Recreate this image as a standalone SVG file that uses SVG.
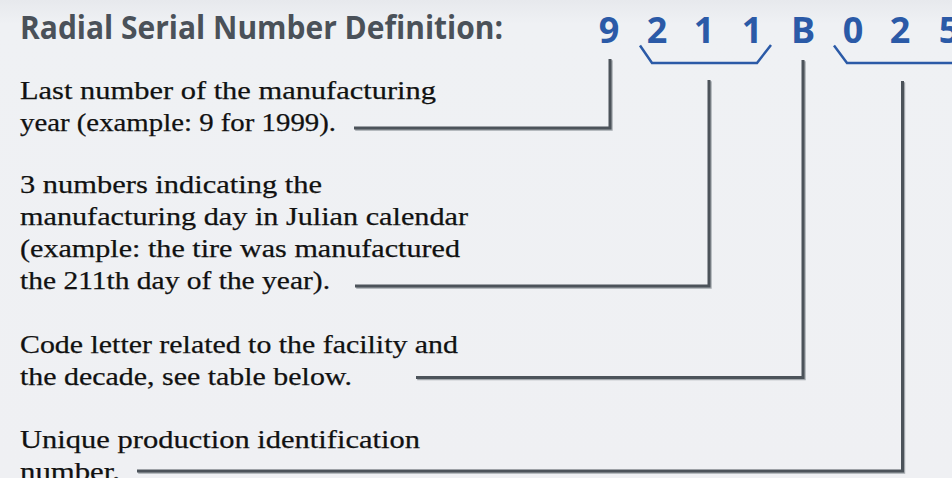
<svg xmlns="http://www.w3.org/2000/svg" width="952" height="478" viewBox="0 0 952 478">
  <defs>
    <linearGradient id="bg" x1="0" y1="0" x2="0" y2="1">
      <stop offset="0" stop-color="#e7e9ed"/>
      <stop offset="0.05" stop-color="#eff1f4"/>
      <stop offset="1" stop-color="#eff0f3"/>
    </linearGradient>
    <style>
      .title { font-family: "Open Sans", "Liberation Sans", sans-serif; font-weight: 700; font-size: 33px; fill: #4a5159; }
      .digit { font-family: "Open Sans", "Liberation Sans", sans-serif; font-weight: 700; font-size: 36px; fill: #2b5aa7; text-anchor: middle; }
      .desc { font-family: "Liberation Serif", "Times New Roman", serif; font-size: 25.5px; fill: #111111; stroke: #111111; stroke-width: 0.25; }
      .bracket { fill: none; stroke: #2b5aa7; stroke-width: 2.5; stroke-linejoin: miter; }
      .lead { fill: none; stroke: #4c535a; stroke-width: 3; stroke-linejoin: miter; }
      .lead-shade { fill: none; stroke: #a3a8ad; stroke-width: 3; }
    </style>
  </defs>

  <rect x="0" y="0" width="952" height="478" fill="url(#bg)"/>

  <g id="title">
    <text class="title" x="20" y="39" textLength="483" lengthAdjust="spacingAndGlyphs">Radial Serial Number Definition:</text>
  </g>

  <!-- serial number characters with grouping brackets -->
  <g id="serial">
    <text class="digit" x="609" y="43">9</text>
    <text class="digit" x="657" y="43">2</text>
    <text class="digit" x="704" y="43">1</text>
    <text class="digit" x="752" y="43">1</text>
    <text class="digit" x="803" y="43">B</text>
    <text class="digit" x="853" y="43">0</text>
    <text class="digit" x="900" y="43">2</text>
    <text class="digit" x="949" y="43">5</text>
    <polyline class="bracket" points="640,45.5 652,63 757,63 771,45"/>
    <polyline class="bracket" points="834,45.5 847,63 960,63"/>
  </g>

  <g id="year">
    <text class="desc" x="20" y="99" textLength="416" lengthAdjust="spacingAndGlyphs">Last number of the manufacturing</text>
    <text class="desc" x="20" y="131" textLength="316" lengthAdjust="spacingAndGlyphs">year (example: 9 for 1999).</text>
  </g>

  <g id="day">
    <text class="desc" x="20" y="193" textLength="302" lengthAdjust="spacingAndGlyphs">3 numbers indicating the</text>
    <text class="desc" x="20" y="225" textLength="448" lengthAdjust="spacingAndGlyphs">manufacturing day in Julian calendar</text>
    <text class="desc" x="20" y="257" textLength="440" lengthAdjust="spacingAndGlyphs">(example: the tire was manufactured</text>
    <text class="desc" x="20" y="289" textLength="310" lengthAdjust="spacingAndGlyphs">the 211th day of the year).</text>
  </g>

  <g id="facility">
    <text class="desc" x="20" y="353" textLength="438" lengthAdjust="spacingAndGlyphs">Code letter related to the facility and</text>
    <text class="desc" x="20" y="385" textLength="332" lengthAdjust="spacingAndGlyphs">the decade, see table below.</text>
  </g>

  <g id="production">
    <text class="desc" x="20" y="448" textLength="400" lengthAdjust="spacingAndGlyphs">Unique production identification</text>
    <text class="desc" x="20" y="480" textLength="100" lengthAdjust="spacingAndGlyphs">number.</text>
  </g>

  <!-- leader lines from each serial group down to its description -->
  <g id="connectors">
    <g transform="translate(1.2,1.2)">
      <path class="lead-shade" d="M610,59 V128 H354"/>
      <path class="lead-shade" d="M709,80 V286 H355"/>
      <path class="lead-shade" d="M803,60 V377.5 H416"/>
      <path class="lead-shade" d="M902.5,81 V471 H137"/>
    </g>
    <path class="lead" d="M610,59 V128 H354"/>
    <path class="lead" d="M709,80 V286 H355"/>
    <path class="lead" d="M803,60 V377.5 H416"/>
    <path class="lead" d="M902.5,81 V471 H137"/>
  </g>
</svg>
